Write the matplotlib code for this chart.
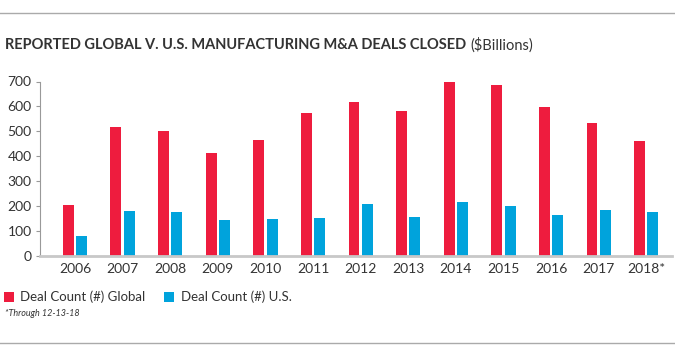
import matplotlib.pyplot as plt
import numpy as np

years = ['2006', '2007', '2008', '2009', '2010', '2011', '2012',
         '2013', '2014', '2015', '2016', '2017', '2018*']
global_deals = [205, 517, 501, 415, 467, 573, 616, 581, 697, 685, 598, 535, 460]
us_deals = [79, 181, 178, 146, 147, 153, 209, 157, 218, 201, 163, 186, 175]

red = '#ee1c3e'
blue = '#00a3dc'
txt = '#333333'
plt.rcParams['font.family'] = ['Lato', 'DejaVu Sans']

fig = plt.figure(figsize=(6.75, 3.56), dpi=100)
ax = fig.add_axes([40 / 675, 1 - 256 / 356, 632 / 675, 174.5 / 356])

x = np.arange(len(years))
w = 0.23
ax.bar(x - 0.14, global_deals, width=w, color=red, label='Deal Count (#) Global')
ax.bar(x + 0.14, us_deals, width=w, color=blue, label='Deal Count (#) U.S.')

ax.set_xlim(-0.735, 12.54)
ax.set_ylim(0, 700)
ax.set_yticks(range(0, 701, 100))
ax.set_xticks(x, years)
ax.tick_params(axis='x', length=0, pad=5, labelsize=10, labelcolor=txt)
ax.tick_params(axis='y', length=3, width=0.8, color='#999999', pad=3,
               labelsize=10, labelcolor=txt)
for s in ['top', 'right']:
    ax.spines[s].set_visible(False)
ax.spines['left'].set_color('#999999')
ax.spines['left'].set_linewidth(0.8)
ax.spines['bottom'].set_color('#c8c8c8')
ax.spines['bottom'].set_linewidth(2)

# title: bold part + normal part
t = fig.text(5 / 675, 1 - 45 / 356, 'REPORTED GLOBAL V. U.S. MANUFACTURING M&A DEALS CLOSED',
             fontsize=10.5, fontweight='bold', color=txt, va='center')
fig.canvas.draw()
bb = t.get_window_extent()
fig.text(bb.x1 / 675 + 4 / 675, 1 - 45 / 356, '($Billions)', fontsize=10.5,
         color=txt, va='center')

leg = fig.legend(loc='center left', bbox_to_anchor=(0, 1 - 297 / 356), ncol=2,
                 frameon=False, fontsize=9.5, handlelength=0.75, handleheight=0.8,
                 handletextpad=0.5, columnspacing=1.4, borderaxespad=0,
                 borderpad=0.3)
for tx in leg.get_texts():
    tx.set_color(txt)

fig.text(5 / 675, 1 - 314 / 356, '*Through 12-13-18', fontsize=6.5, style='italic',
         color=txt, va='center')

# horizontal rules top and bottom
fig.add_artist(plt.Line2D([0, 1], [1 - 13 / 356] * 2, color='#aaaaaa', lw=1))
fig.add_artist(plt.Line2D([0, 1], [1 - 343 / 356] * 2, color='#aaaaaa', lw=1))

fig.savefig('out.png', dpi=100)
